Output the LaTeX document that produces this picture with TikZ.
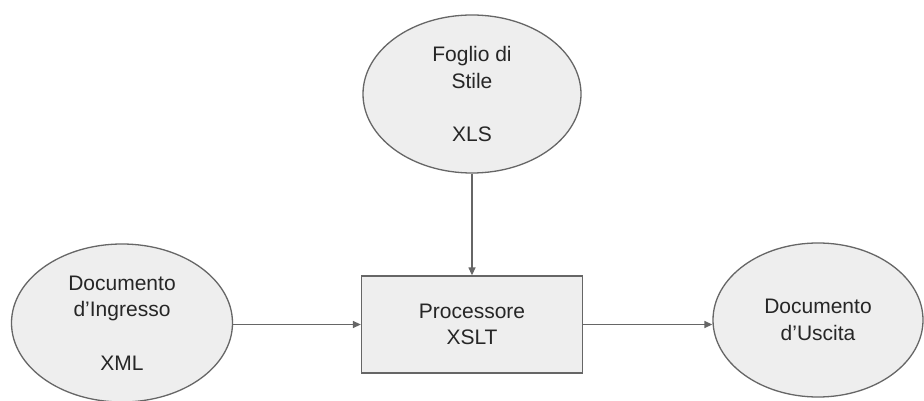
\documentclass[tikz,border=0pt]{standalone}
\usepackage{fontspec}
\setmainfont{Liberation Sans}
\usetikzlibrary{shapes.geometric,arrows.meta}

\definecolor{shapefill}{HTML}{EEEEEE}
\definecolor{shapeline}{HTML}{666666}
\definecolor{textcol}{HTML}{262626}

\tikzset{
  base/.style={draw=shapeline, fill=shapefill, line width=1.3pt, inner sep=0pt,
    align=center, text=textcol, font=\fontsize{21}{26.6}\selectfont},
  docnode/.style={base, ellipse},
  procbox/.style={base, rectangle},
  link/.style={draw=shapeline, line width=1.3pt, -{Triangle[length=8pt,width=7pt]}}
}

\begin{document}
\begin{tikzpicture}[x=1pt, y=-1pt]
  \useasboundingbox[fill=white] (0,0) rectangle (924,401);

  % stylesheet, input document, processor and output document
  \node[docnode, minimum width=218pt, minimum height=158pt] (xls) at (472,94)
    {Foglio di\\Stile\\\mbox{}\\XLS};
  \node[docnode, minimum width=221pt, minimum height=158pt] (xml) at (122,323)
    {Documento\\d’Ingresso\\\mbox{}\\XML};
  \node[procbox, minimum width=221pt, minimum height=97pt] (proc) at (472,324.5)
    {Processore\\XSLT};
  \node[docnode, minimum width=210pt, minimum height=154pt] (out) at (818,320)
    {Documento\\d’Uscita};

  % data flow
  \draw[link] (xls.south) -- (proc.north);
  \draw[link] (xml.east |- proc.west) -- (proc.west);
  \draw[link] (proc.east) -- (proc.east -| out.west);
\end{tikzpicture}
\end{document}
